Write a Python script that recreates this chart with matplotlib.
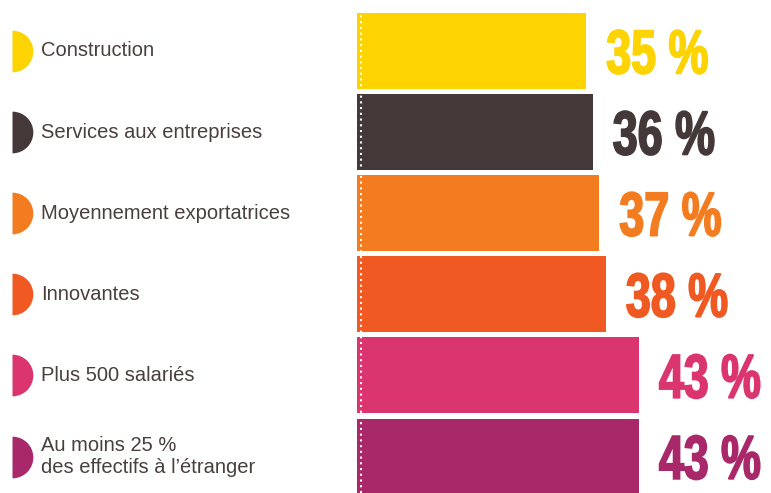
import matplotlib
matplotlib.use("Agg")
import matplotlib.pyplot as plt
from matplotlib.textpath import TextPath
from matplotlib.patches import PathPatch
from matplotlib.font_manager import FontProperties
from matplotlib.transforms import Affine2D, ScaledTranslation, blended_transform_factory

categories = ["Construction", "Services aux entreprises", "Moyennement exportatrices",
              "Innovantes", "Plus 500 salariés", "Au moins 25 %\ndes effectifs à l\u2019étranger"]
values = [35, 36, 37, 38, 43, 43]
colors = ["#fdd300", "#453838", "#f47c20", "#f05a22", "#db3570", "#a9286a"]

W, H = 771, 493
fig = plt.figure(figsize=(W / 100, H / 100), dpi=100)

# bar area starts at x=357 px, 1 % ~ 6.55 px
x0 = 357
ax = fig.add_axes([x0 / W, 0, (W - x0) / W, 1])
ax.set_xlim(0, (W - x0) / 6.55)
ax.set_ylim(5 + (H - 456.5) / 81.1, -51 / 81.1)
ax.axis("off")

ys = list(range(len(values)))
ax.barh(ys, values, height=0.935, color=colors, linewidth=0)
ax.axvline(0.6, color="white", linewidth=1.5, linestyle=(0, (1, 1.75)))

# category labels and half-disc markers on the left
lab = blended_transform_factory(fig.transFigure, ax.transData)
for y, cat, c in zip(ys, categories, colors):
    ax.plot([12 / W], [y], marker="o", markersize=30, fillstyle="right",
            markerfacecoloralt="none", markeredgewidth=0, color=c,
            transform=lab, clip_on=False)
    ax.text(41 / W, y, cat, transform=lab, va="center", ha="left",
            fontsize=14.5, family="Liberation Sans", color="#4a3f3f",
            linespacing=1.2)

# condensed bold value labels
fp = FontProperties(family=["Liberation Sans Narrow", "Liberation Sans"], weight="bold")
for y, v, c in zip(ys, values, colors):
    tp = TextPath((0, 0), f"{v} %", size=100, prop=fp)
    ext = tp.get_extents()
    sy = 44 / ext.height
    sx = 100 / ext.width
    tr = (Affine2D().translate(-ext.x0, -ext.y0 - ext.height / 2)
          .scale(sx, sy).translate(21, -1)
          + ScaledTranslation(v, y, ax.transData))
    ax.add_patch(PathPatch(tp, transform=tr, facecolor=c, edgecolor=c,
                           linewidth=1.3, clip_on=False))

fig.savefig("out.png", dpi=100)
